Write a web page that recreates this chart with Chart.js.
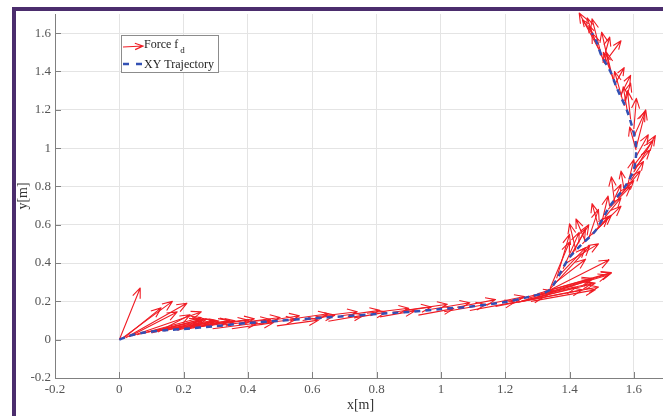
<!DOCTYPE html>
<html>
<head>
<meta charset="utf-8">
<script src="https://cdn.jsdelivr.net/npm/chart.js@4.4.0/dist/chart.umd.min.js"></script>
<style>
  html, body { margin: 0; padding: 0; background: #fff; overflow: hidden; width: 663px; height: 416px; }
  #wrap { position: relative; width: 663px; height: 416px; overflow: hidden; background: #fff; }
  #c { position: absolute; left: 0; top: 0; }
  #frame { position: absolute; left: 12px; top: 7px; width: 800px; height: 600px;
           border-left: 4px solid #4b2d6d; border-top: 4px solid #4b2d6d; pointer-events: none; }
</style>
</head>
<body>
<div id="wrap">
  <canvas id="c" width="680" height="416"></canvas>
  <div id="frame"></div>
</div>
<script>
// Reference XY trajectory of the end effector [m]
const trajX = [0, 0.03, 0.08, 0.15, 0.2, 0.3, 0.4, 0.5, 0.6, 0.7, 0.8, 0.9, 1.0, 1.1, 1.2, 1.27, 1.333,
               1.355, 1.396, 1.433, 1.48, 1.526, 1.573, 1.60, 1.607, 1.604, 1.58, 1.548, 1.527, 1.50, 1.485, 1.47];
const trajY = [0, 0.02, 0.038, 0.05, 0.056, 0.071, 0.087, 0.099, 0.111, 0.122, 0.134, 0.145, 0.160, 0.174, 0.197, 0.222, 0.254,
               0.30, 0.42, 0.49, 0.567, 0.698, 0.80, 0.89, 0.97, 1.048, 1.19, 1.31, 1.40, 1.48, 1.55, 1.60];

// Force f_d arrows: base point (arrowX, arrowY) and components (arrowU, arrowV)
const arrowX = [
  0.000, 0.005, 0.012, 0.020, 0.030, 0.040, 0.055, 0.070, 0.090, 0.110, 0.130, 0.150, 0.175, 0.200, 0.230,
  0.100, 0.120, 0.140, 0.180, 0.210,
  0.26, 0.29, 0.32, 0.35, 0.38, 0.41, 0.45, 0.49, 0.53, 0.57, 0.61, 0.65, 0.69, 0.73, 0.77, 0.81, 0.85, 0.89,
  0.93, 0.97, 1.01, 1.05, 1.09, 1.13, 1.17, 1.21, 1.25,
  1.27, 1.30, 1.26, 1.31, 1.333, 1.333, 1.34, 1.28, 1.29, 1.22, 1.24, 1.30, 1.32, 1.35,
  1.36, 1.38, 1.40, 1.42, 1.44, 1.46, 1.48, 1.50, 1.52, 1.54, 1.56, 1.58, 1.60, 1.60, 1.605, 1.607,
  1.37, 1.39, 1.41, 1.45, 1.47, 1.49, 1.51, 1.53, 1.55, 1.57, 1.59, 1.60,
  1.607, 1.600, 1.59, 1.58, 1.565, 1.548, 1.535, 1.527, 1.51, 1.50, 1.49, 1.48, 1.47, 1.56, 1.52,
  1.60, 1.57, 1.54, 1.505, 1.475
];
const arrowY = [
  0.000, 0.003, 0.006, 0.010, 0.015, 0.020, 0.026, 0.032, 0.040, 0.045, 0.048, 0.052, 0.055, 0.058, 0.062,
  0.035, 0.040, 0.045, 0.050, 0.055,
  0.074, 0.057, 0.077, 0.057, 0.090, 0.079, 0.095, 0.072, 0.107, 0.100, 0.120, 0.096, 0.125, 0.114, 0.138, 0.119, 0.143, 0.153,
  0.128, 0.159, 0.146, 0.169, 0.152, 0.180, 0.173, 0.200, 0.202,
  0.215, 0.228, 0.205, 0.235, 0.254, 0.254, 0.270, 0.200, 0.215, 0.190, 0.195, 0.240, 0.250, 0.290,
  0.32, 0.37, 0.43, 0.465, 0.50, 0.53, 0.567, 0.61, 0.68, 0.72, 0.76, 0.80, 0.875, 0.89, 0.95, 0.99,
  0.34, 0.40, 0.45, 0.51, 0.55, 0.59, 0.64, 0.70, 0.74, 0.78, 0.83, 0.91,
  1.00, 1.10, 1.15, 1.19, 1.25, 1.31, 1.36, 1.40, 1.44, 1.48, 1.52, 1.56, 1.60, 1.28, 1.47,
  1.06, 1.22, 1.33, 1.46, 1.58
];
const arrowU = [
  0.065, 0.160, 0.118, 0.190, 0.150, 0.215, 0.200, 0.190, 0.170, 0.180, 0.170, 0.160, 0.170, 0.160, 0.170,
  0.150, 0.100, 0.130, 0.120, 0.130,
  0.16, 0.14, 0.15, 0.13, 0.12, 0.14, 0.11, 0.13, 0.12, 0.10, 0.13, 0.11, 0.12, 0.10, 0.13, 0.11, 0.12, 0.13,
  0.11, 0.12, 0.13, 0.12, 0.14, 0.13, 0.15, 0.14, 0.17,
  0.26, 0.22, 0.22, 0.16, 0.19, 0.13, 0.06, 0.20, 0.18, 0.22, 0.25, 0.17, 0.21, 0.10,
  0.04, 0.05, 0.06, -0.02, 0.08, 0.03, 0.08, 0.02, 0.07, -0.01, 0.06, 0.02, 0.067, 0.05, 0.04, -0.02,
  0.08, 0.10, 0.04, -0.03, 0.06, -0.02, 0.05, 0.03, 0.05, -0.01, 0.04, 0.06,
  0.03, 0.008, -0.01, -0.013, -0.025, -0.043, -0.02, -0.027, -0.04, -0.03, -0.06, -0.02, -0.03, 0.03, 0.04,
  0.035, 0.02, 0.03, 0.02, -0.02
];
const arrowV = [
  0.270, 0.197, 0.160, 0.180, 0.130, 0.125, 0.090, 0.075, 0.060, 0.055, 0.050, 0.045, 0.045, 0.040, 0.040,
  0.070, 0.090, 0.060, 0.050, 0.045,
  0.035, 0.030, 0.028, 0.032, 0.026, 0.028, 0.030, 0.030, 0.028, 0.028, 0.026, 0.032, 0.028, 0.030, 0.026, 0.032, 0.028, 0.032,
  0.034, 0.034, 0.038, 0.040, 0.044, 0.045, 0.050, 0.055, 0.070,
  0.133, 0.110, 0.090, 0.060, 0.162, 0.236, 0.240, 0.060, 0.100, 0.070, 0.080, 0.080, 0.100, 0.130,
  0.23, 0.19, 0.17, 0.14, 0.14, 0.15, 0.13, 0.14, 0.12, 0.13, 0.12, 0.14, 0.19, 0.10, 0.12, 0.12,
  0.14, 0.10, 0.13, 0.12, 0.10, 0.12, 0.10, 0.11, 0.09, 0.10, 0.10, 0.13,
  0.20, 0.16, 0.15, 0.13, 0.15, 0.19, 0.14, 0.205, 0.16, 0.195, 0.185, 0.08, 0.07, 0.10, 0.09,
  0.13, 0.12, 0.09, 0.12, 0.10
];

// Axis ticks
const xTicks = [-0.2, 0, 0.2, 0.4, 0.6, 0.8, 1, 1.2, 1.4, 1.6];
const yTicks = [-0.2, 0, 0.2, 0.4, 0.6, 0.8, 1, 1.2, 1.4, 1.6];

const RED = 'rgb(240,28,36)';
const BLUE = 'rgb(50,80,180)';
const AXIS = '#808080';
const SERIF = "'Liberation Serif', 'Times New Roman', serif";

function drawArrow(ctx, x0, y0, x1, y1) {
  const dx = x1 - x0, dy = y1 - y0, len = Math.hypot(dx, dy);
  if (len < 0.5) return;
  const ux = dx / len, uy = dy / len;
  const h = Math.min(10, 0.25 * len + 3), w = h * 0.4;
  ctx.beginPath();
  ctx.moveTo(x0, y0); ctx.lineTo(x1, y1);
  ctx.moveTo(x1 - h * ux - w * uy, y1 - h * uy + w * ux);
  ctx.lineTo(x1, y1);
  ctx.lineTo(x1 - h * ux + w * uy, y1 - h * uy - w * ux);
  ctx.stroke();
}

// Quiver arrows, drawn beneath the trajectory line
const quiverPlugin = {
  id: 'quiver',
  beforeDatasetsDraw(chart) {
    const { ctx, scales: { x, y } } = chart;
    ctx.save();
    ctx.strokeStyle = RED;
    ctx.lineWidth = 1.1;
    ctx.lineJoin = 'round';
    for (let i = 0; i < arrowX.length; i++) {
      drawArrow(ctx,
        x.getPixelForValue(arrowX[i]), y.getPixelForValue(arrowY[i]),
        x.getPixelForValue(arrowX[i] + arrowU[i]), y.getPixelForValue(arrowY[i] + arrowV[i]));
    }
    ctx.restore();
  }
};

// Inward tick marks on the left and bottom axes, plus the legend box
const axesPlugin = {
  id: 'axesDecor',
  afterDraw(chart) {
    const { ctx, chartArea: a, scales: { x, y } } = chart;
    ctx.save();
    ctx.strokeStyle = AXIS;
    ctx.lineWidth = 1;
    ctx.beginPath();
    xTicks.forEach(v => { const p = Math.round(x.getPixelForValue(v)) + 0.5; ctx.moveTo(p, a.bottom); ctx.lineTo(p, a.bottom - 6); });
    yTicks.forEach(v => { const p = Math.round(y.getPixelForValue(v)) + 0.5; ctx.moveTo(a.left, p); ctx.lineTo(a.left + 6, p); });
    ctx.stroke();

    // legend
    const lx = a.left + 66, ly = a.top + 21, lw = 97, lh = 37;
    ctx.fillStyle = '#fff';
    ctx.fillRect(lx, ly, lw, lh);
    ctx.strokeStyle = '#8c8c8c';
    ctx.strokeRect(lx + 0.5, ly + 0.5, lw, lh);

    ctx.strokeStyle = RED; ctx.lineWidth = 1.2;
    drawArrow(ctx, lx + 2, ly + 12, lx + 22, ly + 11);

    ctx.strokeStyle = BLUE; ctx.lineWidth = 2.5;
    ctx.setLineDash([6, 7]);
    ctx.beginPath(); ctx.moveTo(lx + 2, ly + 29); ctx.lineTo(lx + 22, ly + 29); ctx.stroke();
    ctx.setLineDash([]);

    ctx.fillStyle = '#222';
    ctx.textBaseline = 'alphabetic';
    ctx.font = '12px ' + SERIF;
    ctx.fillText('Force f', lx + 23, ly + 13);
    const fw = ctx.measureText('Force f').width;
    ctx.font = '9px ' + SERIF;
    ctx.fillText('d', lx + 25 + fw, ly + 18);
    ctx.font = '12px ' + SERIF;
    ctx.fillText('XY Trajectory', lx + 23, ly + 33);
    ctx.restore();
  }
};

const fmt = v => String(Math.round(v * 10) / 10);

new Chart(document.getElementById('c'), {
  type: 'scatter',
  data: {
    datasets: [{
      label: 'XY Trajectory',
      data: trajX.map((v, i) => ({ x: v, y: trajY[i] })),
      showLine: true,
      borderColor: BLUE,
      borderWidth: 2.5,
      borderDash: [6, 5],
      pointRadius: 0,
      tension: 0.3,
      fill: false
    }]
  },
  options: {
    responsive: false,
    devicePixelRatio: 1,
    animation: false,
    layout: { padding: { top: 14, right: 14, left: 0, bottom: 0 } },
    plugins: { legend: { display: false }, tooltip: { enabled: false } },
    scales: {
      x: {
        type: 'linear', min: -0.2, max: 1.7,
        afterBuildTicks: s => { s.ticks = xTicks.map(v => ({ value: v })); },
        afterFit: s => { s.height = 38; },
        ticks: { color: '#555', font: { family: SERIF, size: 13 }, padding: 4, callback: fmt, maxRotation: 0, autoSkip: false },
        grid: { color: '#e4e4e4', lineWidth: 1, drawTicks: false },
        border: { color: AXIS, width: 1 },
        title: { display: true, text: 'x[m]', color: '#333', font: { family: SERIF, size: 14 }, padding: { top: 0, bottom: 2 } }
      },
      y: {
        type: 'linear', min: -0.2, max: 1.7,
        afterBuildTicks: s => { s.ticks = yTicks.map(v => ({ value: v })); },
        afterFit: s => { s.width = 55; },
        ticks: { color: '#555', font: { family: SERIF, size: 13 }, padding: 4, callback: fmt, autoSkip: false },
        grid: { color: '#e4e4e4', lineWidth: 1, drawTicks: false },
        border: { color: AXIS, width: 1 },
        title: { display: true, text: 'y[m]', color: '#333', font: { family: SERIF, size: 14 }, padding: { top: 15, bottom: 0 } }
      }
    }
  },
  plugins: [quiverPlugin, axesPlugin]
});
</script>
</body>
</html>
